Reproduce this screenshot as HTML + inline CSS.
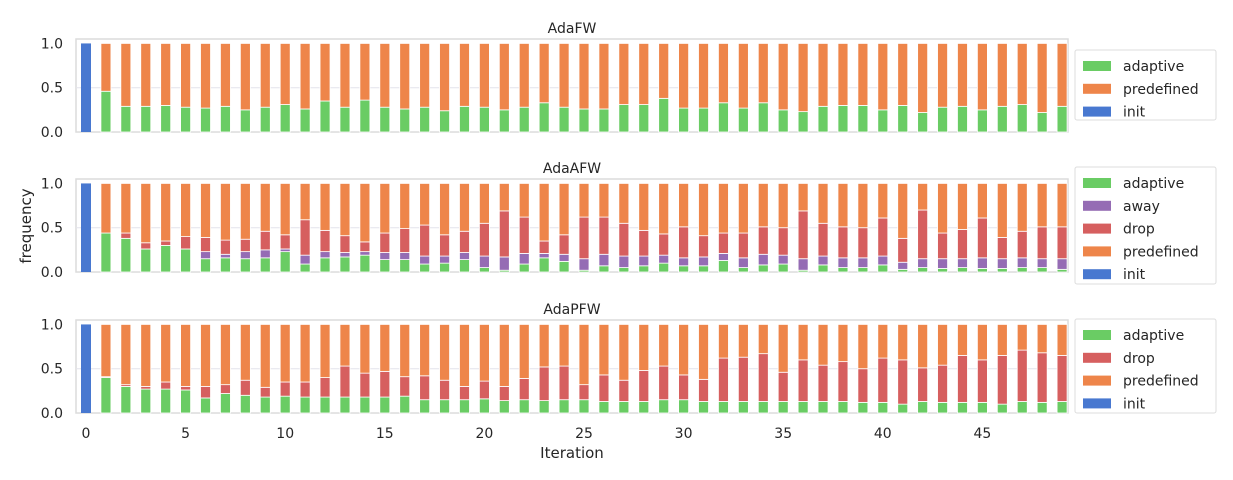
<!DOCTYPE html>
<html><head><meta charset="utf-8"><style>
body{margin:0;background:#fff;}
svg{display:block;font-family:"DejaVu Sans","Liberation Sans",sans-serif;}
</style></head><body>
<svg id="chart" width="1233" height="480" viewBox="0 0 1233 480" xmlns="http://www.w3.org/2000/svg"></svg>
<script>
const iterations = Array.from({length:50},(_,i)=>i);
const xTicks = [0,5,10,15,20,25,30,35,40,45];
const yTicks = [0,0.5,1.0];
const yTickLabels = ["0.0","0.5","1.0"];
const fwAdaptive = [0,0.46,0.29,0.29,0.30,0.28,0.27,0.29,0.25,0.28,0.31,0.26,0.35,0.28,0.36,0.28,0.26,0.28,0.24,0.29,0.28,0.25,0.28,0.33,0.28,0.26,0.26,0.31,0.31,0.38,0.27,0.27,0.33,0.27,0.33,0.25,0.23,0.29,0.30,0.30,0.25,0.30,0.22,0.28,0.29,0.25,0.29,0.31,0.22,0.29];
const afwAdaptive = [0,0.44,0.38,0.26,0.30,0.26,0.15,0.16,0.15,0.16,0.23,0.09,0.16,0.17,0.19,0.14,0.14,0.09,0.10,0.14,0.05,0.02,0.09,0.16,0.12,0.02,0.07,0.05,0.07,0.10,0.07,0.07,0.13,0.05,0.08,0.09,0.02,0.08,0.05,0.05,0.08,0.03,0.05,0.04,0.05,0.04,0.04,0.05,0.05,0.03];
const afwAway = [0,0,0,0,0,0,0.08,0.04,0.08,0.09,0.03,0.10,0.07,0.05,0.04,0.08,0.08,0.09,0.08,0.08,0.13,0.15,0.12,0.05,0.08,0.13,0.13,0.13,0.11,0.09,0.09,0.10,0.08,0.11,0.12,0.10,0.13,0.10,0.11,0.11,0.10,0.08,0.10,0.11,0.10,0.12,0.11,0.11,0.10,0.12];
const afwDrop = [0,0,0.06,0.07,0.05,0.14,0.16,0.16,0.14,0.21,0.16,0.40,0.24,0.19,0.11,0.22,0.27,0.35,0.24,0.24,0.37,0.52,0.41,0.14,0.22,0.47,0.42,0.37,0.29,0.24,0.35,0.24,0.23,0.28,0.31,0.31,0.54,0.37,0.35,0.34,0.43,0.27,0.55,0.29,0.33,0.45,0.24,0.30,0.36,0.36];
const pfwAdaptive = [0,0.40,0.30,0.27,0.27,0.26,0.17,0.22,0.20,0.18,0.19,0.18,0.18,0.18,0.18,0.18,0.19,0.15,0.15,0.15,0.16,0.14,0.15,0.14,0.15,0.15,0.13,0.13,0.13,0.15,0.15,0.13,0.13,0.13,0.13,0.13,0.13,0.13,0.13,0.12,0.12,0.10,0.13,0.12,0.12,0.12,0.10,0.13,0.12,0.13];
const pfwDrop = [0,0.01,0.02,0.03,0.08,0.04,0.13,0.10,0.17,0.11,0.16,0.17,0.22,0.35,0.27,0.29,0.22,0.27,0.22,0.15,0.20,0.16,0.24,0.38,0.38,0.17,0.30,0.24,0.35,0.38,0.28,0.25,0.49,0.50,0.54,0.33,0.47,0.41,0.45,0.38,0.50,0.50,0.38,0.42,0.53,0.48,0.55,0.58,0.56,0.52];

const C={adaptive:"#6acc64",away:"#956cb4",drop:"#d65f5f",predefined:"#ee854a",init:"#4878d0"};
const svg=document.getElementById('chart');
const NS="http://www.w3.org/2000/svg";
function mk(tag,attrs,parent){const e=document.createElementNS(NS,tag);for(const k in attrs)e.setAttribute(k,attrs[k]);(parent||svg).appendChild(e);return e;}
const X0=76,X1=1068;
function xs(i){return 86+i*19.92;}

function panel(title,top,series,legendItems,lx,ly,lh,name){
  const g=mk('g',{});
  
  
  const bot=top+93;
  function ys(v){return bot-v*(93/1.05);}
  mk('rect',{x:X0,y:top,width:X1-X0,height:93,fill:"#fff",stroke:"#dcdcdc","stroke-width":1.5},g);
  yTicks.forEach((t,k)=>{
    if(t>0&&t<1) mk('line',{x1:X0,x2:X1,y1:ys(t),y2:ys(t),stroke:"#e4e4ec","stroke-width":1},g);
    const tx=mk('text',{x:X0-13,y:ys(t)+5,"text-anchor":"end","font-size":14,fill:"#262626"},g);
    tx.textContent=yTickLabels[k];
    
    
  });
  const tt=mk('text',{x:(X0+X1)/2,y:top-6,"text-anchor":"middle","font-size":14,fill:"#262626"},g);
  tt.textContent=title;
  
  
  iterations.forEach(i=>{
    const x=xs(i)-5;
    if(i===0){
      const r=mk('rect',{x:x,y:ys(1),width:10,height:ys(0)-ys(1),fill:C.init},g);
      
      
      return;
    }
    let cum=0;
    series.forEach(s=>{
      const v=s.name==='predefined'?Math.max(0,1-cum):s.vals[i];
      if(v<=0)return;
      const r=mk('rect',{x:x,y:ys(cum+v),width:10,height:ys(cum)-ys(cum+v),fill:C[s.name],stroke:"#fff","stroke-width":0.8},g);
      
      
      cum+=v;
    });
  });
  const lg=mk('g',{},g);
  
  
  mk('rect',{x:lx,y:ly,width:141,height:lh,fill:"#fff",stroke:"#dcdcdc",rx:2},lg);
  legendItems.forEach((n,k)=>{
    const yy=ly+16+k*22.8;
    mk('rect',{x:lx+8,y:yy-5,width:28,height:10,fill:C[n]},lg);
    const t=mk('text',{x:lx+48,y:yy+5,"font-size":14,fill:"#262626"},lg);
    t.textContent=n;
    
    
  });
  return {ys,bot};
}
panel("AdaFW",39,[{name:'adaptive',vals:fwAdaptive},{name:'predefined'}],['adaptive','predefined','init'],1075,50,70,'adafw');
panel("AdaAFW",179,[{name:'adaptive',vals:afwAdaptive},{name:'away',vals:afwAway},{name:'drop',vals:afwDrop},{name:'predefined'}],['adaptive','away','drop','predefined','init'],1075,167,117,'adaafw');
panel("AdaPFW",320,[{name:'adaptive',vals:pfwAdaptive},{name:'drop',vals:pfwDrop},{name:'predefined'}],['adaptive','drop','predefined','init'],1075,319,94,'adapfw');

xTicks.forEach(t=>{
  const tx=mk('text',{x:xs(t),y:438,"text-anchor":"middle","font-size":14,fill:"#262626"});
  tx.textContent=t;
  
  
});
const xl=mk('text',{x:(X0+X1)/2,y:458,"text-anchor":"middle","font-size":15,fill:"#262626"});
xl.textContent="Iteration";


const yl=mk('text',{x:31,y:226,"text-anchor":"middle","font-size":15,fill:"#262626",transform:"rotate(-90 31 226)"});
yl.textContent="frequency";


</script>
</body></html>
